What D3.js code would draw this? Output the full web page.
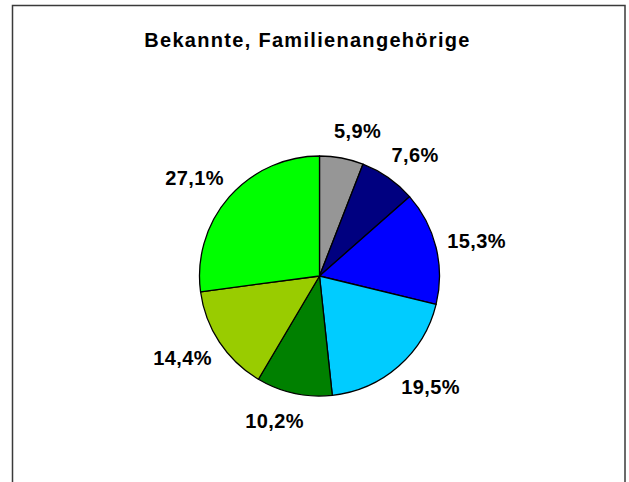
<!DOCTYPE html>
<html>
<head>
<meta charset="utf-8">
<script src="https://cdn.jsdelivr.net/npm/d3@7"></script>
<style>
  body { margin: 0; background: #fff; }
  text { font-family: Arial, "Liberation Sans", sans-serif; font-weight: bold; }
</style>
</head>
<body>
<div id="wrapper"></div>
<script>
// data, clockwise from 12 o'clock
const shares = [5.9, 7.6, 15.3, 19.5, 10.2, 14.4, 27.1]
const sliceColors = ['#969696', '#000080', '#0000ff', '#00ccff', '#008000', '#99cc00', '#00ff00']
const title = 'Bekannte, Familienangehörige'

const dimensions = {
  width: 629,
  height: 482,
  cx: 319.5,
  cy: 276,
  radius: 120
}

const svg = d3.select('#wrapper')
  .append('svg')
  .attr('width', dimensions.width)
  .attr('height', dimensions.height)

// chart frame (bottom runs off the picture)
svg.append('rect')
  .attr('x', 12.5)
  .attr('y', 5.5)
  .attr('width', 612.5)
  .attr('height', 520)
  .attr('fill', 'none')
  .attr('stroke', '#3a3a3a')
  .attr('stroke-width', 1.5)

svg.append('text')
  .attr('x', 307.5)
  .attr('y', 46.5)
  .attr('text-anchor', 'middle')
  .style('font-size', '20px')
  .style('letter-spacing', '1.3px')
  .text(title)

const pie = d3.pie().sort(null).value(d => d)
const arcs = pie(shares)

const arc = d3.arc().innerRadius(0).outerRadius(dimensions.radius)

const bounds = svg.append('g')
  .attr('transform', `translate(${dimensions.cx},${dimensions.cy})`)

bounds.selectAll('path')
  .data(arcs)
  .enter().append('path')
  .attr('d', arc)
  .attr('fill', (d, i) => sliceColors[i])
  .attr('stroke', '#000')
  .attr('stroke-width', 1.3)
  .attr('stroke-linejoin', 'round')

// labels outside the rim, nudged sideways by about half the label width
const fmt = v => v.toFixed(1).replace('.', ',') + '%'
const labels = bounds.selectAll('text.lbl')
  .data(arcs)
  .enter().append('text')
  .attr('class', 'lbl')
  .attr('text-anchor', 'middle')
  .style('font-size', '20px')
  .style('letter-spacing', '0.4px')
  .text(d => fmt(d.data))

labels.each(function (d) {
  const box = this.getBBox()
  const a = (d.startAngle + d.endAngle) / 2
  const s = Math.sin(a), c = -Math.cos(a)
  const r = dimensions.radius + 28
  d3.select(this)
    .attr('x', s * r + Math.sign(s) * box.width * 0.23)
    .attr('y', c * r + 7)
})
</script>
</body>
</html>
